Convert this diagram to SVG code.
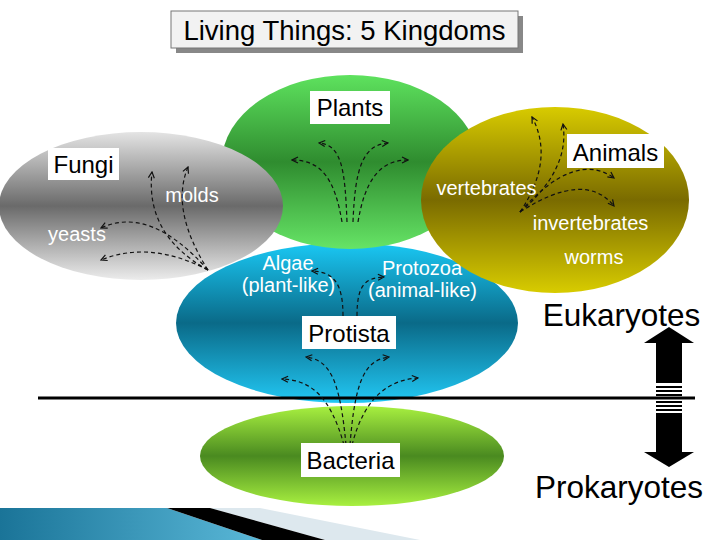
<svg xmlns="http://www.w3.org/2000/svg" width="720" height="540" viewBox="0 0 720 540">
<style>
.lbl{font-family:"Liberation Sans",Arial,sans-serif;font-size:24px;fill:#000;}
.sub{font-family:"Liberation Sans",Arial,sans-serif;font-size:20px;fill:#fff;}
.big{font-family:"Liberation Sans",Arial,sans-serif;font-size:31.5px;fill:#000;}
.box{fill:#fff;}
.dash{fill:none;stroke:#111;stroke-width:1.2;stroke-dasharray:4,3;marker-end:url(#chev);}
</style>
<defs>
<marker id="chev" viewBox="0 0 8 8" refX="7" refY="4" markerWidth="8" markerHeight="8" markerUnits="userSpaceOnUse" orient="auto">
<path d="M1,1 L7,4 L1,7" fill="none" stroke="#111" stroke-width="1.2"/>
</marker>
<linearGradient id="gFungi" x1="0" y1="0" x2="0" y2="1">
<stop offset="0" stop-color="#e4e4e4"/><stop offset="0.5" stop-color="#6a6a6a"/><stop offset="1" stop-color="#ececec"/>
</linearGradient>
<linearGradient id="gPlants" x1="0" y1="0" x2="0" y2="1">
<stop offset="0" stop-color="#5ee25e"/><stop offset="0.5" stop-color="#2f8c2f"/><stop offset="1" stop-color="#66e466"/>
</linearGradient>
<linearGradient id="gAnimals" x1="0" y1="0" x2="0" y2="1">
<stop offset="0" stop-color="#d8cb00"/><stop offset="0.5" stop-color="#7a6b00"/><stop offset="1" stop-color="#d8cc00"/>
</linearGradient>
<linearGradient id="gProt" x1="0" y1="0" x2="0" y2="1">
<stop offset="0" stop-color="#1ac8f4"/><stop offset="0.5" stop-color="#0a6a88"/><stop offset="1" stop-color="#22c8f4"/>
</linearGradient>
<linearGradient id="gBact" x1="0" y1="0" x2="0" y2="1">
<stop offset="0" stop-color="#a8f040"/><stop offset="0.5" stop-color="#4a8a20"/><stop offset="1" stop-color="#a8f040"/>
</linearGradient>
<linearGradient id="gBand" x1="0" y1="0" x2="1" y2="0">
<stop offset="0" stop-color="#1a7498"/><stop offset="1" stop-color="#5ab8d8"/>
</linearGradient>
</defs>

<g id="footer">
<polygon points="0,508 167,508 262,540 0,540" fill="url(#gBand)"/>
<polygon points="210,508 260,508 420,540 325,540" fill="#dde8ee"/>
<polygon points="167,508 210,508 325,540 262,540" fill="#000"/>
</g>

<g id="title">
<rect x="176" y="16" width="347" height="37" fill="#888"/>
<rect x="171" y="11" width="347" height="37" fill="#f2f2f2" stroke="#777" stroke-width="1"/>
<text x="344.5" y="40" text-anchor="middle" font-family="'Liberation Sans',Arial,sans-serif" font-size="27.5" fill="#000">Living Things: 5 Kingdoms</text>
</g>

<g id="protista">
<ellipse cx="347" cy="323" rx="171" ry="80" fill="url(#gProt)"/>
</g>
<g id="plants">
<ellipse cx="350" cy="162" rx="128" ry="87" fill="url(#gPlants)"/>
</g>
<g id="fungi">
<ellipse cx="141" cy="206" rx="142" ry="74" fill="url(#gFungi)"/>
</g>
<g id="animals">
<ellipse cx="555" cy="200" rx="134" ry="93" fill="url(#gAnimals)"/>
</g>
<g id="bacteria">
<ellipse cx="352" cy="456" rx="152" ry="50" fill="url(#gBact)"/>
</g>

<line x1="38" y1="398" x2="695" y2="398" stroke="#000" stroke-width="3"/>

<g id="connectors">
<path class="dash" d="M208,270 Q145,235 152,172"/>
<path class="dash" d="M208,270 Q170,210 188,167"/>
<path class="dash" d="M208,270 Q150,205 101,228"/>
<path class="dash" d="M208,270 Q150,240 101,260"/>
<path class="dash" d="M342,222 C335,180 322,160 292,160"/>
<path class="dash" d="M347,222 C345,170 342,145 319,143"/>
<path class="dash" d="M353,222 C355,170 362,145 388,143"/>
<path class="dash" d="M358,222 C365,180 380,160 408,160"/>
<path class="dash" d="M520,212 Q555,160 532,117"/>
<path class="dash" d="M520,212 Q570,170 563,124"/>
<path class="dash" d="M520,212 Q575,150 614,178"/>
<path class="dash" d="M520,212 Q585,170 614,206"/>
<path class="dash" d="M343,316 C343,285 335,272 312,271"/>
<path class="dash" d="M357,316 C357,285 365,278 384,277"/>
<path class="dash" d="M346,445 C340,380 330,360 306,357"/>
<path class="dash" d="M344,445 C330,395 310,380 282,379"/>
<path class="dash" d="M350,445 C355,380 365,360 389,357"/>
<path class="dash" d="M352,445 C365,395 390,380 418,378"/>
</g>

<g id="labels">
<rect class="box" x="48" y="148" width="71" height="32"/>
<text class="lbl" x="83.5" y="173" text-anchor="middle">Fungi</text>
<rect class="box" x="310" y="91" width="80" height="33"/>
<text class="lbl" x="350" y="116" text-anchor="middle">Plants</text>
<rect class="box" x="567" y="134" width="97" height="34"/>
<text class="lbl" x="615.5" y="161" text-anchor="middle">Animals</text>
<rect class="box" x="302" y="316" width="94" height="33"/>
<text class="lbl" x="349" y="342" text-anchor="middle">Protista</text>
<rect class="box" x="301" y="443" width="99" height="34"/>
<text class="lbl" x="350.5" y="469" text-anchor="middle">Bacteria</text>

<text class="sub" x="192" y="202" text-anchor="middle">molds</text>
<text class="sub" x="77" y="241" text-anchor="middle">yeasts</text>
<text class="sub" x="486.5" y="195" text-anchor="middle">vertebrates</text>
<text class="sub" x="590.5" y="230" text-anchor="middle">invertebrates</text>
<text class="sub" x="594" y="264" text-anchor="middle">worms</text>
<text class="sub" x="288" y="270" text-anchor="middle">Algae</text>
<text class="sub" x="288.5" y="292" text-anchor="middle">(plant-like)</text>
<text class="sub" x="422" y="275" text-anchor="middle">Protozoa</text>
<text class="sub" x="422.5" y="297" text-anchor="middle">(animal-like)</text>
</g>

<g id="scale">
<text class="big" x="621.5" y="326" text-anchor="middle">Eukaryotes</text>
<text class="big" x="619" y="498" text-anchor="middle">Prokaryotes</text>
<polygon points="669,327 694,343 682,343 682,383 656,383 656,343 644,343" fill="#000"/>
<rect x="656" y="386" width="26" height="2" fill="#000"/>
<rect x="656" y="390" width="26" height="2" fill="#000"/>
<rect x="656" y="394" width="26" height="2" fill="#000"/>
<rect x="656" y="401" width="26" height="2" fill="#000"/>
<rect x="656" y="405" width="26" height="2" fill="#000"/>
<rect x="656" y="409" width="26" height="2" fill="#000"/>
<polygon points="656,413 682,413 682,452 694,452 669,467 644,452 656,452" fill="#000"/>
</g>
</svg>
